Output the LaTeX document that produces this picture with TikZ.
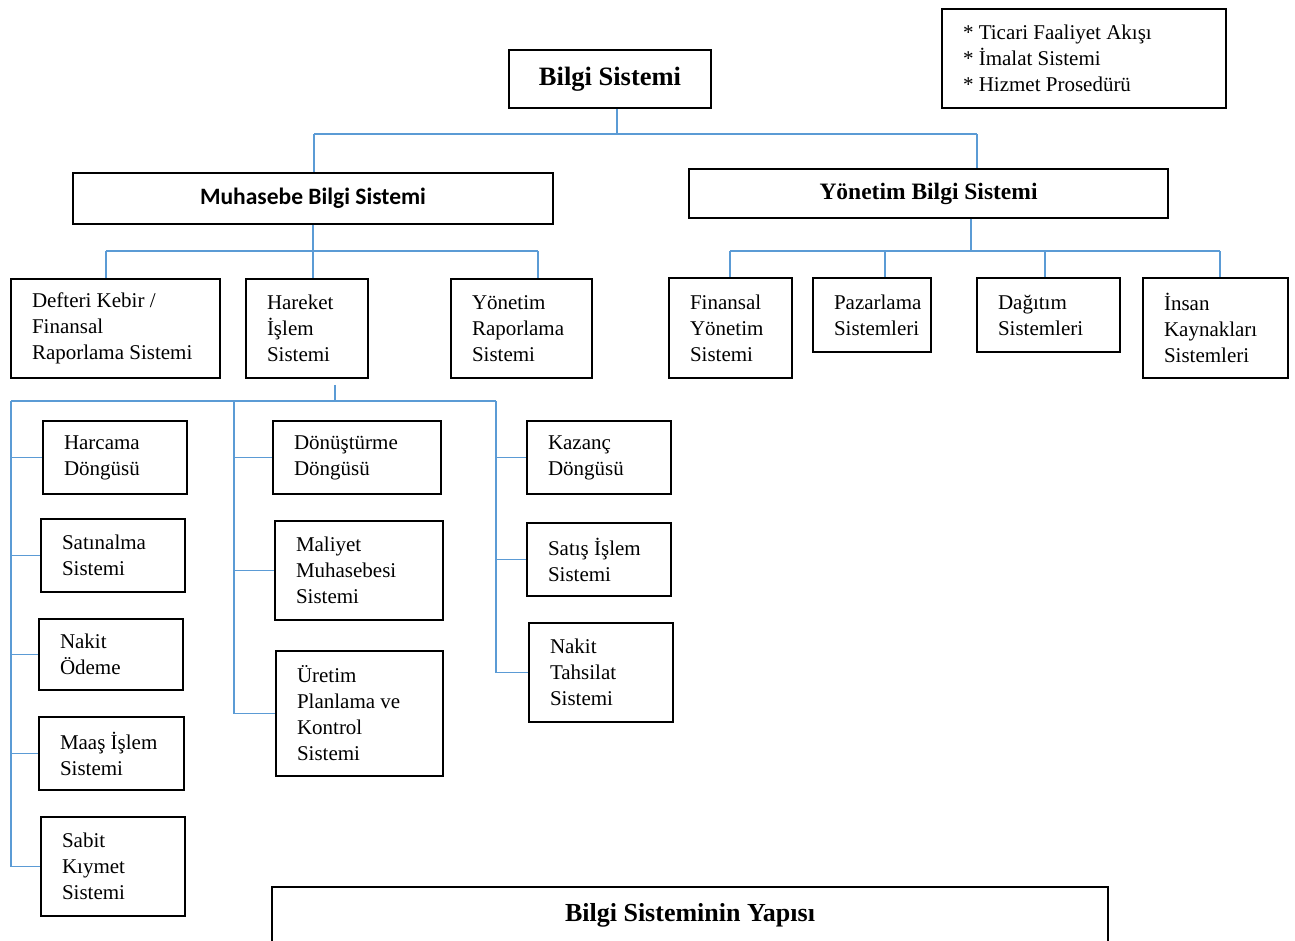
\documentclass[tikz,border=0pt]{standalone}
\usepackage{fontspec}
\setmainfont{Liberation Serif}
\newfontfamily\calibri{Carlito}
\usepackage{xcolor}
\usetikzlibrary{positioning, calc}
\definecolor{bagmavi}{RGB}{91,155,213}
\newcommand{\duz}{\fontsize{21}{26}\selectfont}
\hyphenpenalty=10000
\exhyphenpenalty=10000

\tikzset{
    kutu/.style 2 args={draw, line width=1.5pt, align=flush left, inner xsep=21pt,
        inner ysep=2pt, font=\duz, text width=#1, minimum height=#2},
    baslik/.style 2 args={draw, line width=1.5pt, align=center, inner sep=0pt,
        minimum width=#1, minimum height=#2},
    bag/.style={draw=bagmavi, line width=1.5pt}
}

\begin{document}
\begin{tikzpicture}[x=1pt, y=-1pt]

    \useasboundingbox (0,0) rectangle (1295,940);

    % --- UST SEVIYE ---
    \node[baslik={202pt}{58pt}, font=\bfseries\fontsize{26.5}{30}\selectfont]
        (bilgi) at (610,79) {Bilgi Sistemi};
    \node[kutu={242pt}{99pt}] (liste) at (1084,58.5)
        {{*} Ticari Faaliyet Akışı\\{*} İmalat Sistemi\\{*} Hizmet Prosedürü};

    \node[baslik={480pt}{51pt}, font=\calibri\bfseries\fontsize{23.5}{28}\selectfont]
        (muhasebe) at (313,198.5) {Muhasebe Bilgi Sistemi};
    \node[baslik={479pt}{49pt}, font=\bfseries\fontsize{23.5}{28}\selectfont]
        (yonetim) at (928.5,193.5) {Yönetim Bilgi Sistemi};

    % --- MUHASEBE ALT SISTEMLERI ---
    \node[kutu={167pt}{99pt}] (defteri) at (115.5,328.5)
        {Defteri Kebir /\\Finansal\\Raporlama Sistemi};
    \node[kutu={80pt}{99pt}] (hareket) at (307,328.5) {Hareket\\İşlem\\Sistemi};
    \node[kutu={99pt}{99pt}] (yrapor) at (521.5,328.5) {Yönetim\\Raporlama\\Sistemi};

    % --- YONETIM ALT SISTEMLERI ---
    \node[kutu={81pt}{100pt}] (finansal) at (730.5,328) {Finansal\\Yönetim\\Sistemi};
    \node[kutu={76pt}{74pt}] (pazarlama) at (872,315) {Pazarlama\\Sistemleri};
    \node[kutu={101pt}{74pt}] (dagitim) at (1048.5,315) {Dağıtım\\Sistemleri};
    \node[kutu={103pt}{100pt}] (insan) at (1215.5,328) {İnsan\\Kaynakları\\Sistemleri};

    % --- HAREKET ISLEM: SOL SUTUN ---
    \node[kutu={102pt}{73pt}] (harcama) at (115,457.5) {Harcama\\Döngüsü};
    \node[kutu={102pt}{73pt}] (satinalma) at (113,555.5) {Satınalma\\Sistemi};
    \node[kutu={102pt}{71pt}] (nakitodeme) at (111,654.5) {Nakit\\Ödeme};
    \node[kutu={103pt}{73pt}] (maas) at (111.5,753.5) {Maaş İşlem\\Sistemi};
    \node[kutu={102pt}{99pt}] (sabit) at (113,866.5) {Sabit\\Kıymet\\Sistemi};

    % --- HAREKET ISLEM: ORTA SUTUN ---
    \node[kutu={126pt}{73pt}] (donusturme) at (357,457.5) {Dönüştürme\\Döngüsü};
    \node[kutu={126pt}{99pt}] (maliyet) at (359,570.5) {Maliyet\\Muhasebesi\\Sistemi};
    \node[kutu={125pt}{125pt}] (uretim) at (359.5,713.5)
        {Üretim\\Planlama ve\\Kontrol\\Sistemi};

    % --- HAREKET ISLEM: SAG SUTUN ---
    \node[kutu={102pt}{73pt}] (kazanc) at (599,457.5) {Kazanç\\Döngüsü};
    \node[kutu={102pt}{73pt}] (satis) at (599,559.5) {Satış İşlem\\Sistemi};
    \node[kutu={102pt}{99pt}] (tahsilat) at (601,672.5) {Nakit\\Tahsilat\\Sistemi};

    % --- ALT BASLIK ---
    \node[baslik={836pt}{56pt}, font=\bfseries\fontsize{26}{30}\selectfont]
        (yapi) at (690,915) {Bilgi Sisteminin Yapısı};

    % --- BAGLANTILAR: UST ---
    \coordinate (b0) at (617,134);
    \coordinate (b1) at (314,134);
    \coordinate (b2) at (977,134);
    \draw[bag] (b1) -- (b2);
    \draw[bag] (b0 |- bilgi.south) -- (b0);
    \draw[bag] (b1) -- (b1 |- muhasebe.north);
    \draw[bag] (b2) -- (b2 |- yonetim.north);

    % --- BAGLANTILAR: MUHASEBE ---
    \coordinate (m1) at (106,251);
    \coordinate (m2) at (538,251);
    \draw[bag] (m1) -- (m2);
    \draw[bag] (muhasebe.south) -- (muhasebe.south |- m1);
    \foreach \n/\x in {defteri/106, hareket/313, yrapor/538}
        \draw[bag] (\x,251) -- (\x,0 |- \n.north);

    % --- BAGLANTILAR: YONETIM ---
    \coordinate (y0) at (971,251);
    \coordinate (y1) at (730,251);
    \coordinate (y2) at (1220,251);
    \draw[bag] (y1) -- (y2);
    \draw[bag] (y0 |- yonetim.south) -- (y0);
    \foreach \n/\x in {finansal/730, pazarlama/885, dagitim/1045, insan/1220}
        \draw[bag] (\x,251) -- (\x,0 |- \n.north);

    % --- BAGLANTILAR: HAREKET ISLEM ---
    \coordinate (h0) at (335,401);
    \coordinate (h1) at (11,401);
    \coordinate (h2) at (496,401);
    \coordinate (h3) at (234,401);
    \draw[bag] (h1) -- (h2);
    \draw[bag, shorten <=6pt] (h0 |- hareket.south) -- (h0);

    \draw[bag] (h1) -- (h1 |- sabit.west);
    \foreach \n in {harcama, satinalma, nakitodeme, maas, sabit}
        \draw[bag] (h1 |- \n.west) -- (\n.west);

    \draw[bag] (h3) -- (h3 |- uretim.west);
    \foreach \n in {donusturme, maliyet, uretim}
        \draw[bag] (h3 |- \n.west) -- (\n.west);

    \draw[bag] (h2) -- (h2 |- tahsilat.west);
    \foreach \n in {kazanc, satis, tahsilat}
        \draw[bag] (h2 |- \n.west) -- (\n.west);

\end{tikzpicture}
\end{document}
